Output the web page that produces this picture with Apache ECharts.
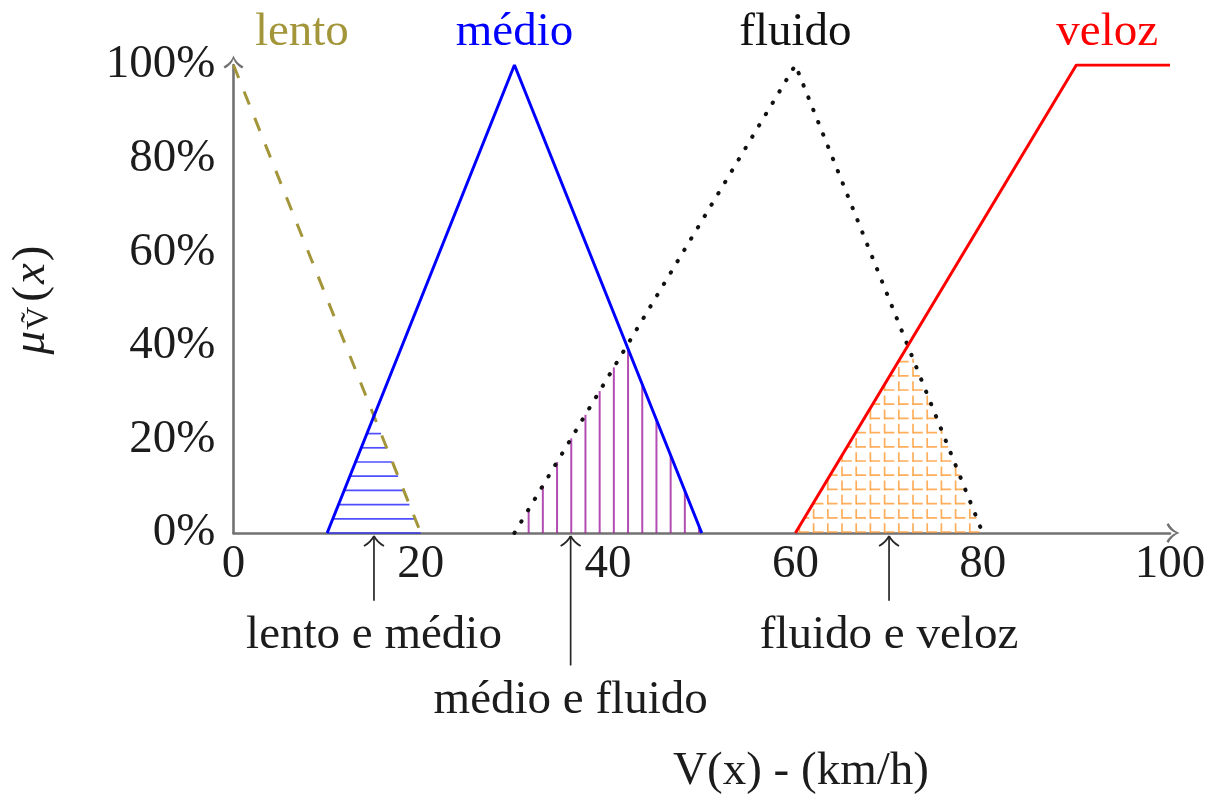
<!DOCTYPE html>
<html>
<head>
<meta charset="utf-8">
<title>Conjuntos fuzzy de velocidade</title>
<script src="https://cdn.jsdelivr.net/npm/echarts@6/dist/echarts.min.js"></script>
<style>
  html, body { margin: 0; padding: 0; background: #ffffff; }
  #chart { width: 1216px; height: 795px; }
</style>
</head>
<body>
<div id="chart"></div>
<script>
// Fuzzy sets for speed V(x) in km/h; membership in percent
const setNames  = ['lento', 'médio', 'fluido', 'veloz'];
const setColors = ['#a39539', '#0000ff', '#111111', '#ff0000'];
const lentoPts  = [[0, 100], [20, 0]];
const medioPts  = [[10, 0], [30, 100], [50, 0]];
const fluidoPts = [[30, 0], [60, 100], [80, 0]];
const velozPts  = [[60, 0], [90, 100], [100, 100]];
// where each set name is written above the plot (x in km/h, y in %)
const setLabelX = [7.3, 30, 60, 93.3];
const setLabelY = 107;

// overlap regions between neighbouring sets: [left foot, crossing, right foot]
const overlapLeft  = [10, 30, 60];
const overlapPeakX = [15, 42, 72];
const overlapPeakY = [25, 40, 40];
const overlapRight = [20, 50, 80];
const overlapHatch = ['horizontal', 'vertical', 'grid'];
const overlapColor = ['#2f2fff', '#a020a0', '#ffa040'];

// annotations under the axis
const annoX      = [15, 36, 70];
const annoText   = ['lento e médio', 'médio e fluido', 'fluido e veloz'];
const annoTail   = [-14.5, -28.3, -14.5];
const annoTextY  = [-22, -35.8, -22];

const xTicks = [0, 20, 40, 60, 80, 100];
const yTicks = [0, 20, 40, 60, 80, 100];
const xTitle = 'V(x) - (km/h)';
const xTitlePos = [60.6, -51];

const FONT = '"Liberation Serif", "Times New Roman", serif';
const TEXT = '#1c1c1c';
const AXIS_GRAY = '#727272';
const HATCH_STEP = 14.2;

// open arrow head, tip at top
const arrowHead = 'path://M10,0 Q12.5,7 20,11 L18.6,13 Q12,9.6 10,3.6 Q8,9.6 1.4,13 L0,11 Q7.5,7 10,0 Z';

function hatchRegion(params, api) {
  const i = params.dataIndex;
  const A = api.coord([overlapLeft[i], 0]);
  const B = api.coord([overlapPeakX[i], overlapPeakY[i]]);
  const C = api.coord([overlapRight[i], 0]);
  const leftX  = y => A[0] + (B[0] - A[0]) * (A[1] - y) / (A[1] - B[1]);
  const rightX = y => C[0] + (B[0] - C[0]) * (C[1] - y) / (C[1] - B[1]);
  const topY = x => x <= B[0]
    ? A[1] + (B[1] - A[1]) * (x - A[0]) / (B[0] - A[0])
    : B[1] + (C[1] - B[1]) * (x - B[0]) / (C[0] - B[0]);
  const color = overlapColor[i];
  const kind = overlapHatch[i];
  const children = [];
  if (kind === 'horizontal') {
    for (let y = A[1]; y > B[1] + 1; y -= HATCH_STEP) {
      children.push({
        type: 'line',
        shape: { x1: leftX(y), y1: y, x2: rightX(y), y2: y },
        style: { stroke: color, lineWidth: 1.7, opacity: 0.85 }
      });
    }
  } else if (kind === 'vertical') {
    for (let x = A[0] + HATCH_STEP; x < C[0] - 1; x += HATCH_STEP) {
      children.push({
        type: 'line',
        shape: { x1: x, y1: A[1], x2: x, y2: topY(x) },
        style: { stroke: color, lineWidth: 2, opacity: 0.8 }
      });
    }
  } else {
    const dash = [HATCH_STEP - 4.4, 4.4];
    const x0 = A[0] + 4;
    for (let x = x0; x < C[0] - 1; x += HATCH_STEP) {
      children.push({
        type: 'line',
        shape: { x1: x, y1: A[1], x2: x, y2: topY(x) },
        style: { stroke: color, lineWidth: 1.7, opacity: 0.85, lineDash: dash }
      });
    }
    for (let y = A[1] - 1; y > B[1] + 1; y -= HATCH_STEP) {
      const xs = leftX(y);
      const phase = ((xs - x0) % HATCH_STEP + HATCH_STEP) % HATCH_STEP;
      children.push({
        type: 'line',
        shape: { x1: xs, y1: y, x2: rightX(y), y2: y },
        style: { stroke: color, lineWidth: 1.7, opacity: 0.85, lineDash: dash, lineDashOffset: phase }
      });
    }
  }
  return { type: 'group', children: children };
}

function annotation(params, api) {
  const i = params.dataIndex;
  const tip = api.coord([annoX[i], 0]);
  const tail = api.coord([annoX[i], annoTail[i]]);
  const txt = api.coord([annoX[i], annoTextY[i]]);
  const tx = tip[0], ty = tip[1] + 3;
  const stroke = { stroke: '#262626', lineWidth: 1.7, fill: null };
  return {
    type: 'group',
    children: [
      { type: 'line', shape: { x1: tx, y1: ty, x2: tail[0], y2: tail[1] }, style: stroke },
      { type: 'bezierCurve', shape: { x1: tx, y1: ty, cpx1: tx - 3, cpy1: ty + 6, x2: tx - 10, y2: ty + 10 }, style: stroke },
      { type: 'bezierCurve', shape: { x1: tx, y1: ty, cpx1: tx + 3, cpy1: ty + 6, x2: tx + 10, y2: ty + 10 }, style: stroke },
      {
        type: 'text',
        x: txt[0], y: txt[1],
        style: { text: annoText[i], font: '47px ' + FONT, fill: TEXT, align: 'center', verticalAlign: 'middle' }
      }
    ]
  };
}

function setLabel(params, api) {
  const i = params.dataIndex;
  const p = api.coord([setLabelX[i], setLabelY]);
  return {
    type: 'text', x: p[0], y: p[1],
    style: { text: setNames[i], font: '47px ' + FONT, fill: setColors[i], align: 'center', verticalAlign: 'middle' }
  };
}

function axisTitle(params, api) {
  const p = api.coord(xTitlePos);
  return {
    type: 'text', x: p[0], y: p[1],
    style: { text: xTitle, font: '47px ' + FONT, fill: TEXT, align: 'center', verticalAlign: 'middle' }
  };
}

const lineSeries = (name, data, color, extra) => Object.assign({
  name: name,
  type: 'line',
  data: data,
  symbol: 'none',
  z: 5,
  silent: true,
  animation: false,
  lineStyle: { color: color, width: 3 }
}, extra || {});

const axisLineStyle = {
  show: true,
  symbol: ['none', arrowHead],
  symbolSize: [20, 13],
  symbolOffset: [0, 3],
  lineStyle: { color: AXIS_GRAY, width: 2.6 }
};

const chart = echarts.init(document.getElementById('chart'), null, { renderer: 'canvas' });
chart.setOption({
  backgroundColor: '#ffffff',
  animation: false,
  grid: { left: 232, right: 46, top: 65, bottom: 262, containLabel: false },
  xAxis: {
    type: 'value',
    min: 0, max: 100, interval: 20,
    axisLine: axisLineStyle,
    axisTick: { show: false },
    splitLine: { show: false },
    axisLabel: {
      margin: 8,
      fontFamily: FONT, fontSize: 47, color: TEXT,
      customValues: xTicks,
      formatter: v => String(v)
    }
  },
  yAxis: {
    type: 'value',
    min: 0, max: 100, interval: 20,
    name: '{mu|μ}{sub|Ṽ}{p|(}{it|x}{p|)}',
    nameLocation: 'middle',
    nameGap: 178,
    nameRotate: 90,
    nameTextStyle: {
      rich: {
        mu: { fontFamily: FONT, fontStyle: 'italic', fontSize: 47, color: TEXT },
        sub: { fontFamily: FONT, fontSize: 32, color: TEXT, verticalAlign: 'bottom', padding: [16, 3, 0, 1] },
        p: { fontFamily: FONT, fontSize: 47, color: TEXT, padding: [0, 2, 0, 2] },
        it: { fontFamily: FONT, fontStyle: 'italic', fontSize: 47, color: TEXT }
      }
    },
    axisLine: axisLineStyle,
    axisTick: { show: false },
    splitLine: { show: false },
    axisLabel: {
      margin: 18,
      fontFamily: FONT, fontSize: 47, color: TEXT,
      customValues: yTicks,
      formatter: v => v + '%'
    }
  },
  series: [
    {
      type: 'custom', name: 'interseções', renderItem: hatchRegion,
      data: overlapLeft.map((v, i) => [v, overlapPeakY[i]]),
      z: 2, silent: true, clip: false
    },
    lineSeries(setNames[0], lentoPts, setColors[0], { lineStyle: { color: setColors[0], width: 3, type: [14, 14.5] } }),
    lineSeries(setNames[1], medioPts, setColors[1]),
    lineSeries(setNames[2], fluidoPts, setColors[2], { lineStyle: { color: setColors[2], width: 4, type: [0.5, 12.7], cap: 'round' } }),
    lineSeries(setNames[3], velozPts, setColors[3]),
    {
      type: 'custom', name: 'rótulos', renderItem: setLabel,
      data: setLabelX.map(x => [x, setLabelY]),
      z: 6, silent: true, clip: false
    },
    {
      type: 'custom', name: 'anotações', renderItem: annotation,
      data: annoX.map((x, i) => [x, annoTextY[i]]),
      z: 6, silent: true, clip: false
    },
    {
      type: 'custom', name: 'título', renderItem: axisTitle,
      data: [xTitlePos],
      z: 6, silent: true, clip: false
    }
  ]
});
</script>
</body>
</html>
